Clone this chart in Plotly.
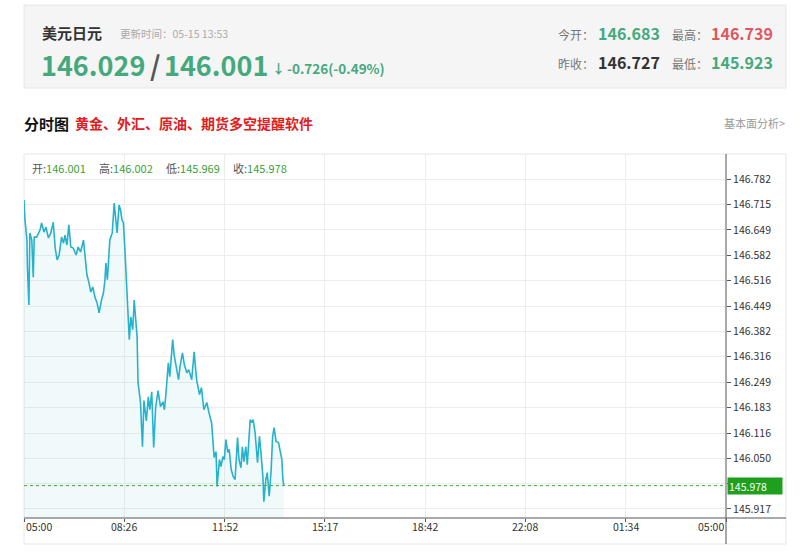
import plotly.graph_objects as go
import pandas as pd

# ---------------- data ----------------
date = "2024-05-15"
times = ["05:00","05:02","05:06","05:07","05:10","05:12","05:16","05:19","05:21","05:26",
         "05:33","05:36","05:41","05:45","05:50","05:55","06:00","06:04","06:08","06:12",
         "06:17","06:21","06:24","06:28","06:32","06:36","06:41","06:47","06:51","06:56",
         "07:02","07:05","07:09","07:13","07:17","07:21","07:26","07:30","07:34","07:39",
         "07:43","07:46","07:48","07:51","07:53","07:56","08:01","08:05","08:08","08:11",
         "08:15","08:18","08:21","08:24","08:27","08:29","08:34","08:36","08:39","08:43",
         "08:46","08:49","08:52","08:54","08:59","09:03","09:06","09:11","09:15","09:18",
         "09:22","09:26","09:30","09:35","09:40","09:45","09:48","09:51","09:56","09:59",
         "10:05","10:08","10:13","10:17","10:20","10:25","10:29","10:34","10:38","10:44",
         "10:49","10:54","11:00","11:04","11:09","11:15","11:19","11:25","11:30","11:34",
         "11:36","11:41","11:44","11:48","11:51","11:54","11:58","12:01","12:05","12:09",
         "12:13","12:18","12:21","12:25","12:28","12:31","12:35","12:38","12:44","12:47",
         "12:50","12:54","12:59","13:03","13:06","13:10","13:12","13:16","13:19","13:23",
         "13:27","13:30","13:33","13:37","13:42","13:45","13:49","13:51","13:53"]
prices = [146.727,146.675,146.622,146.552,146.452,146.641,146.622,146.525,146.630,146.630,
          146.649,146.667,146.643,146.656,146.628,146.641,146.669,146.601,146.570,146.583,
          146.630,146.614,146.635,146.609,146.662,146.604,146.601,146.583,146.604,146.591,
          146.622,146.575,146.531,146.512,146.486,146.499,146.470,146.457,146.431,146.465,
          146.484,146.518,146.562,146.518,146.578,146.622,146.641,146.719,146.680,146.641,
          146.714,146.701,146.675,146.667,146.596,146.544,146.405,146.361,146.421,146.387,
          146.465,146.421,146.368,146.248,146.196,146.080,146.201,146.148,146.211,146.177,
          146.224,146.078,146.183,146.227,146.185,146.198,146.177,146.217,146.300,146.264,
          146.361,146.321,146.290,146.256,146.290,146.326,146.295,146.274,146.282,146.256,
          146.329,146.256,146.217,146.235,146.177,146.196,146.172,146.141,146.052,146.067,
          145.976,146.046,146.028,146.054,146.046,146.099,146.065,146.073,146.020,146.002,
          145.994,146.104,146.046,146.025,146.080,146.041,146.080,146.033,146.151,146.143,
          146.151,146.117,146.038,146.107,146.065,146.002,145.936,145.994,146.012,145.950,
          146.020,146.107,146.130,146.094,146.091,146.067,146.046,145.994,145.978]

y_ticks = [145.917,145.984,146.050,146.116,146.183,146.249,146.316,146.382,
           146.449,146.516,146.582,146.649,146.715,146.782]
y_tick_labels = ["145.917","","146.050","146.116","146.183","146.249","146.316","146.382",
                 "146.449","146.516","146.582","146.649","146.715","146.782"]
x_tick_labels = ["05:00","08:26","11:52","15:17","18:42","22:08","01:34","05:00"]
y_range = [145.893, 146.848]

last_price = 145.978
bar_open, bar_high, bar_low, bar_close = "146.001", "146.002", "145.969", "145.978"
bid, ask, change, change_pct = "146.029", "146.001", "-0.726", "-0.49%"
today_open, high, prev_close, low = "146.683", "146.739", "146.727", "145.923"
title = "美元日元"
update_time = "05-15 13:53"

# ---------------- figure ----------------
FONT = "Noto Sans CJK SC"
W, H = 800, 558
ML, MR, MT, MB = 24, 74, 154, 40
PW, PH = W - ML - MR, H - MT - MB

def px(x):
    return (x - ML) / PW

def py(y):
    return (H - MB - y) / PH

t = pd.to_datetime([f"{date} {s}" for s in times])
start = pd.Timestamp(f"{date} 05:00")
end = start + pd.Timedelta(hours=24)
x_tick_vals = [start + pd.Timedelta(minutes=1440 * i / 7) for i in range(8)]

GREEN = "#45a97e"
RED = "#e0575d"

fig = go.Figure()
fig.add_trace(go.Scatter(
    x=t, y=prices, mode="lines",
    line=dict(color="#27b2cb", width=1.6),
    fill="tozeroy", fillcolor="rgba(39,178,203,0.07)",
    hoverinfo="skip", showlegend=False))

shapes = [
    # header box
    dict(type="rect", xref="paper", yref="paper", x0=px(24), x1=px(786), y0=py(88), y1=py(5),
         fillcolor="#f5f5f5", line=dict(color="#e6e6e6", width=1), layer="below"),
    # chart frame
    dict(type="rect", xref="paper", yref="paper", x0=px(24), x1=px(786), y0=py(544), y1=py(154),
         line=dict(color="#e6e6e6", width=1), layer="below"),
    # right axis line
    dict(type="line", xref="paper", yref="paper", x0=1, x1=1, y0=py(544), y1=py(154),
         line=dict(color="#555555", width=1)),
    # bottom axis line
    dict(type="line", xref="paper", yref="paper", x0=0, x1=px(786), y0=0, y1=0,
         line=dict(color="#555555", width=1)),
    # last price dotted line
    dict(type="line", xref="paper", yref="y", x0=0, x1=1, y0=last_price, y1=last_price,
         line=dict(color="#3cae3c", width=1, dash="dot")),
]

ann = []
def text(x, y, s, size, color, bold=False, anchor="left"):
    if bold:
        s = f"<b>{s}</b>"
    ann.append(dict(xref="paper", yref="paper", x=px(x), y=py(y), text=s, showarrow=False,
                    xanchor=anchor, yanchor="middle",
                    font=dict(family=FONT, size=size, color=color)))

# header left
text(40, 32, title, 15, "#333333", bold=True)
text(118, 33, f"更新时间：{update_time}", 10.5, "#aaaaaa")
text(39, 64, bid, 27, GREEN, bold=True)
text(148, 64, "/", 27, "#555555", bold=True)
text(162, 64, ask, 27, GREEN, bold=True)
text(270, 68, "↓", 13, GREEN, bold=True)
text(285, 68, f"{change}({change_pct})", 13.5, GREEN, bold=True)

# header right
text(556, 34, "今开：", 12, "#777777")
text(596, 33, today_open, 16, GREEN, bold=True)
text(670, 34, "最高：", 12, "#777777")
text(709, 33, high, 16, RED, bold=True)
text(556, 63, "昨收：", 12, "#777777")
text(596, 62, prev_close, 16, "#333333", bold=True)
text(670, 63, "最低：", 12, "#777777")
text(709, 62, low, 16, GREEN, bold=True)

# section title
text(22, 123, "分时图", 15, "#111111", bold=True)
text(73, 123, "黄金、外汇、原油、期货多空提醒软件", 14, "#e02020", bold=True)
text(787, 123, "基本面分析>", 11, "#999999", anchor="right")

# info row inside chart
IG = "#3a9f3a"
text(30, 168, f"开:<span style='color:{IG}'>{bar_open}</span>", 11, "#555555")
text(97, 168, f"高:<span style='color:{IG}'>{bar_high}</span>", 11, "#555555")
text(164, 168, f"低:<span style='color:{IG}'>{bar_low}</span>", 11, "#555555")
text(231, 168, f"收:<span style='color:{IG}'>{bar_close}</span>", 11, "#555555")

# x tick labels
for i, (xv, lab) in enumerate(zip(x_tick_vals, x_tick_labels)):
    anchor = "left" if i == 0 else ("right" if i == len(x_tick_labels) - 1 else "center")
    ann.append(dict(xref="x", yref="paper", x=xv, y=py(526), text=lab, showarrow=False,
                    xanchor=anchor, yanchor="middle",
                    font=dict(family=FONT, size=10.5, color="#333333")))

# last price tag
ann.append(dict(xref="paper", yref="y", x=px(727), y=last_price, text=f"{last_price:.3f}",
                showarrow=False, xanchor="left", yanchor="middle", bgcolor="#1ea01e",
                width=52, height=14, align="left", borderpad=1,
                font=dict(family=FONT, size=10.5, color="#ffffff")))

fig.update_layout(
    width=W, height=H, margin=dict(l=ML, r=MR, t=MT, b=MB),
    paper_bgcolor="#ffffff", plot_bgcolor="#ffffff",
    shapes=shapes, annotations=ann, showlegend=False,
    xaxis=dict(type="date", range=[start, end], tickvals=x_tick_vals, showticklabels=False,
               showgrid=True, gridcolor="#ededed", gridwidth=1, zeroline=False,
               ticks="outside", ticklen=3, tickcolor="#555555", showline=False, fixedrange=True),
    yaxis=dict(range=y_range, side="right", tickvals=y_ticks, ticktext=y_tick_labels,
               showgrid=True, gridcolor="#ededed", gridwidth=1, zeroline=False,
               ticks="outside", ticklen=4, tickcolor="#555555", showline=False,
               tickfont=dict(family=FONT, size=10.5, color="#333333"), fixedrange=True),
)

fig.write_html("out.html", config={"displayModeBar": False},
               post_script="document.body.style.margin='0';")
